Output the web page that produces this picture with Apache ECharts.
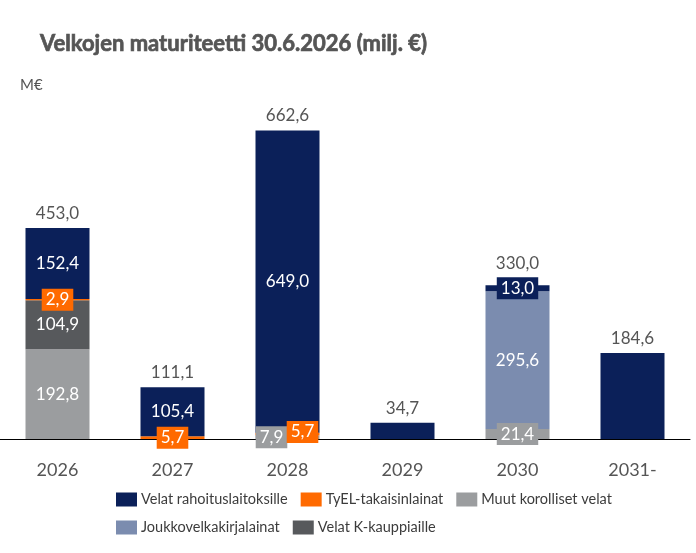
<!DOCTYPE html>
<html><head><meta charset="utf-8">
<script src="https://cdn.jsdelivr.net/npm/echarts@6/dist/echarts.min.js"></script>
<style>html,body{margin:0;padding:0;background:#fff}#c{width:696px;height:553px}</style>
</head><body><div id="c"></div>
<script>
const categories = ['2026','2027','2028','2029','2030','2031-'];
const muutKorolliset = [192.8, null, 7.9, null, 21.4, null];
const velatKKauppiaille = [104.9, null, null, null, null, null];
const joukkovelkakirjalainat = [null, null, null, null, 295.6, null];
const tyelTakaisinlainat = [2.9, 5.7, 5.7, null, null, null];
const velatRahoituslaitoksille = [152.4, 105.4, 649.0, 34.7, 13.0, 184.6];
const totals = [453.0, 111.1, 662.6, 34.7, 330.0, 184.6];

const fmt = v => v.toFixed(1).replace('.', ',');
const FONT = 'Lato, "Open Sans", sans-serif';

const seriesDefs = [
  {name:'Muut korolliset velat', data:muutKorolliset, color:'#9b9d9f'},
  {name:'Velat K-kauppiaille', data:velatKKauppiaille, color:'#57595c'},
  {name:'Joukkovelkakirjalainat', data:joukkovelkakirjalainat, color:'#7b8caf'},
  {name:'TyEL-takaisinlainat', data:tyelTakaisinlainat, color:'#ff6a00'},
  {name:'Velat rahoituslaitoksille', data:velatRahoituslaitoksille, color:'#0b2059'}
];
const legendOrder = ['Velat rahoituslaitoksille','TyEL-takaisinlainat','Muut korolliset velat','Joukkovelkakirjalainat','Velat K-kauppiaille'];

// number of segments per category
const segCount = categories.map((c,i)=>seriesDefs.filter(s=>s.data[i]!=null).length);
// is the top segment of a bar a small boxed one (and bar has several segments)?
const topSmall = categories.map((c,i)=>{
  let top=null; seriesDefs.forEach(s=>{ if(s.data[i]!=null) top=s.data[i]; });
  return segCount[i]>1 && top!=null && top<25;
});

const series = seriesDefs.map((s)=>({
  name:s.name, type:'bar', stack:'total', barWidth:64,
  itemStyle:{color:s.color},
  data:s.data.map((v,i)=>{
    if(v==null) return null;
    const item = {value:v};
    const lab = {show: segCount[i] > 1};
    if (v < 25) {
      lab.backgroundColor = s.color;
      lab.padding = [3,4,2,4];
    }
    // two small segments in the same bar: spread labels sideways
    if (i === 2 && s.name === 'Muut korolliset velat') lab.offset = [-16, 0];
    if (i === 2 && s.name === 'TyEL-takaisinlainat') lab.offset = [15, -2];
    item.label = lab;
    return item;
  }),
  label:{position:'inside', color:'#fff', fontSize:17, fontFamily:FONT, formatter:p=>fmt(p.value)}
}));

series.push({
  name:'Yhteensä', type:'bar', barWidth:64, barGap:'-100%', z:0, silent:true,
  itemStyle:{color:'rgba(0,0,0,0)'},
  data:totals.map((v,i)=>({value:v, label:{distance: topSmall[i] ? 13 : 6}})),
  label:{show:true, position:'top', color:'#555', fontSize:17, fontFamily:FONT, formatter:p=>fmt(p.value)}
});

const chart = echarts.init(document.getElementById('c'), null, {renderer:'canvas'});
chart.setOption({
  animation:false,
  title:[
    {text:'Velkojen maturiteetti 30.6.2026 (milj. €)', left:40, top:33, padding:0,
     textStyle:{fontFamily:FONT, fontSize:22, fontWeight:'bold', color:'#555',
                textBorderColor:'#555', textBorderWidth:0.7}},
    {text:'M€', left:20, top:78, padding:0,
     textStyle:{fontFamily:FONT, fontSize:15, fontWeight:'normal', color:'#555'}}
  ],
  legend:{
    data:legendOrder,
    left:116, top:492, right:0, padding:0,
    icon:'rect', itemWidth:21, itemHeight:14, itemGap:13,
    textStyle:{fontFamily:FONT, fontSize:14.5, color:'#3c3c3c', padding:[0,0,0,-1]}
  },
  grid:{left:-3, right:6, top:113, bottom:114, containLabel:false},
  xAxis:{
    type:'category', data:categories,
    axisLine:{lineStyle:{color:'#000', width:1}},
    axisTick:{show:false},
    axisLabel:{fontFamily:FONT, fontSize:18, color:'#555', margin:22}
  },
  yAxis:{type:'value', min:0, max:700, show:false},
  series:series
});
</script>
</body></html>
